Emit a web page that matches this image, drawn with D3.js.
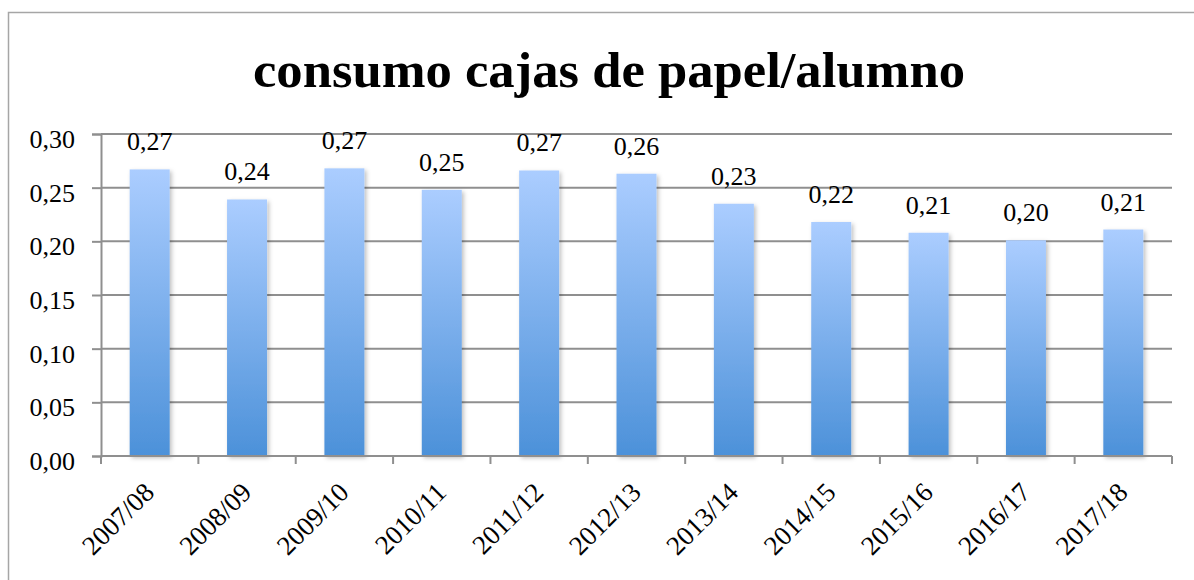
<!DOCTYPE html>
<html>
<head>
<meta charset="utf-8">
<script src="https://cdn.jsdelivr.net/npm/d3@7"></script>
<style>
  body { margin: 0; background: #fff; }
  svg { display: block; }
</style>
</head>
<body>
<svg id="chart"></svg>
<script>
var cursos = ["2007/08", "2008/09", "2009/10", "2010/11", "2011/12", "2012/13",
              "2013/14", "2014/15", "2015/16", "2016/17", "2017/18"];
var consumo = [0.267, 0.239, 0.268, 0.248, 0.266, 0.263, 0.235, 0.218, 0.208, 0.201, 0.211];
var yTicks = [0, 0.05, 0.10, 0.15, 0.20, 0.25, 0.30];
var titulo = "consumo cajas de papel/alumno";

var width = 1194, height = 580;
var margin = { left: 101, right: 22, top: 134, bottom: 124 };
var fuente = "'Liberation Serif', 'Times New Roman', serif";

var svg = d3.select("#chart").attr("width", width).attr("height", height);

var fmt = function (v) { return d3.format(".2f")(v).replace(".", ","); };

// gradiente de las barras
var defs = svg.append("defs");
var grad = defs.append("linearGradient")
  .attr("id", "barGrad").attr("x1", 0).attr("y1", 0).attr("x2", 0).attr("y2", 1);
grad.append("stop").attr("offset", "0%").attr("stop-color", "#abcdff");
grad.append("stop").attr("offset", "100%").attr("stop-color", "#4c91d9");

var shadow = defs.append("filter").attr("id", "sombra")
  .attr("x", "-20%").attr("y", "-5%").attr("width", "150%").attr("height", "115%");
shadow.append("feDropShadow").attr("dx", 2).attr("dy", 2).attr("stdDeviation", 2)
  .attr("flood-color", "#000").attr("flood-opacity", 0.25);

// marco exterior
svg.append("rect")
  .attr("x", 8.5).attr("y", 12.5)
  .attr("width", width + 20).attr("height", height + 20)
  .attr("fill", "none").attr("stroke", "#a6a6a6").attr("stroke-width", 1.5);

var x = d3.scaleBand()
  .domain(cursos)
  .range([margin.left, width - margin.right])
  .padding(0);

var y = d3.scaleLinear()
  .domain([0, 0.30])
  .range([height - margin.bottom, margin.top]);

// rejilla
svg.append("g")
  .selectAll("line")
  .data(yTicks.slice(1))
  .enter()
  .append("line")
  .attr("x1", margin.left).attr("x2", width - margin.right)
  .attr("y1", function (d) { return y(d); })
  .attr("y2", function (d) { return y(d); })
  .attr("stroke", "#8f8f8f").attr("stroke-width", 2);

// eje y
var yAxis = svg.append("g")
  .attr("transform", "translate(" + margin.left + ",0)")
  .call(d3.axisLeft(y).tickValues(yTicks).tickFormat(fmt).tickSize(9).tickPadding(17));
yAxis.select(".domain").attr("stroke", "#8f8f8f").attr("stroke-width", 2);
yAxis.selectAll(".tick line").attr("stroke", "#8f8f8f").attr("stroke-width", 2);
yAxis.selectAll("text")
  .attr("fill", "#000")
  .attr("dy", "0.52em")
  .style("font-family", fuente)
  .style("font-size", "26px");

// barras
var barW = 40;
svg.append("g")
  .selectAll("rect")
  .data(consumo)
  .enter()
  .append("rect")
  .attr("x", function (d, i) { return x(cursos[i]) + x.bandwidth() / 2 - barW / 2; })
  .attr("y", function (d) { return y(d); })
  .attr("width", barW)
  .attr("height", function (d) { return y(0) - y(d); })
  .attr("fill", "url(#barGrad)")
  .attr("filter", "url(#sombra)");

// eje x
var xAxis = svg.append("g")
  .attr("transform", "translate(0," + y(0) + ")");
xAxis.append("line")
  .attr("x1", margin.left).attr("x2", width - margin.right)
  .attr("stroke", "#8f8f8f").attr("stroke-width", 2);
xAxis.selectAll(".sep")
  .data(cursos.concat(["fin"]))
  .enter()
  .append("line")
  .attr("class", "sep")
  .attr("x1", function (d, i) { return margin.left + i * x.step(); })
  .attr("x2", function (d, i) { return margin.left + i * x.step(); })
  .attr("y1", 0).attr("y2", 8)
  .attr("stroke", "#8f8f8f").attr("stroke-width", 2);

xAxis.selectAll(".lab")
  .data(cursos)
  .enter()
  .append("text")
  .attr("class", "lab")
  .attr("text-anchor", "end")
  .attr("transform", function (d) {
    return "translate(" + (x(d) + x.bandwidth() / 2 + 6) + ",38) rotate(-45)";
  })
  .style("font-family", fuente)
  .style("font-size", "27px")
  .attr("fill", "#000")
  .text(function (d) { return d; });

// etiquetas de valor
svg.append("g")
  .selectAll("text")
  .data(consumo)
  .enter()
  .append("text")
  .attr("x", function (d, i) { return x(cursos[i]) + x.bandwidth() / 2; })
  .attr("y", function (d) { return y(d) - 19; })
  .attr("text-anchor", "middle")
  .style("font-family", fuente)
  .style("font-size", "26px")
  .attr("fill", "#000")
  .text(function (d) { return fmt(d); });

// título
svg.append("text")
  .attr("x", 609).attr("y", 87)
  .attr("text-anchor", "middle")
  .attr("textLength", 712)
  .attr("lengthAdjust", "spacingAndGlyphs")
  .style("font-family", fuente)
  .style("font-weight", "bold")
  .style("font-size", "51px")
  .attr("fill", "#000")
  .text(titulo);
</script>
</body>
</html>
